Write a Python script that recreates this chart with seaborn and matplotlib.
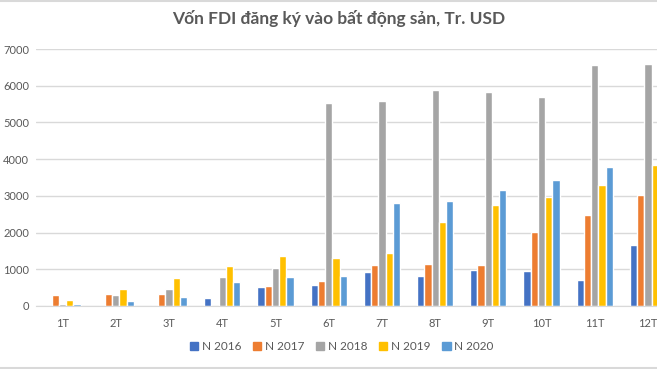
# Vốn FDI đăng ký vào bất động sản - grouped bar chart

import pandas as pd
import matplotlib.pyplot as plt
import seaborn as sns
from matplotlib.lines import Line2D

sns.set_style("white")
plt.rcParams["font.family"] = ["Lato", "DejaVu Sans"]

# data (Tr. USD)
months = ["1T", "2T", "3T", "4T", "5T", "6T", "7T", "8T", "9T", "10T", "11T", "12T"]
years = ["N 2016", "N 2017", "N 2018", "N 2019", "N 2020"]
n2016 = [0, 0, 0, 220, 520, 570, 925, 820, 980, 955, 710, 1660]
n2017 = [300, 330, 330, 0, 545, 680, 1115, 1145, 1115, 2015, 2480, 3025]
n2018 = [55, 300, 465, 790, 1035, 5530, 5585, 5885, 5830, 5695, 6565, 6595]
n2019 = [165, 465, 765, 1090, 1360, 1310, 1445, 2290, 2750, 2970, 3295, 3840]
n2020 = [55, 135, 245, 655, 790, 820, 2805, 2860, 3160, 3435, 3785, 4100]

colors = ["#4472C4", "#ED7D31", "#A5A5A5", "#FFC000", "#5B9BD5"]

rows = []
for year, vals in zip(years, [n2016, n2017, n2018, n2019, n2020]):
    for m, v in zip(months, vals):
        rows.append({"month": m, "year": year, "value": v})
df = pd.DataFrame(rows)

fig = plt.figure(figsize=(6.57, 3.69), dpi=100)
# axes runs past the right edge, like the cropped original
ax = fig.add_axes([0.0548, 0.171, 0.972, 0.696])

sns.barplot(data=df, x="month", y="value", hue="year", order=months,
            hue_order=years, palette=colors, width=0.68, gap=0,
            saturation=1, ax=ax, legend=False)

ax.set_xlim(-0.5, 11.5)
ax.set_ylim(0, 7000)
ax.set_yticks(range(0, 7001, 1000))
ax.yaxis.grid(True, color="#D9D9D9", linewidth=1)
ax.set_axisbelow(True)
for s in ["top", "right", "left"]:
    ax.spines[s].set_visible(False)
ax.spines["bottom"].set_color("#D9D9D9")
ax.tick_params(axis="both", length=0, labelsize=8, labelcolor="#595959")
ax.tick_params(axis="x", pad=9)
ax.tick_params(axis="y", pad=5)
ax.set_xlabel("")
ax.set_ylabel("")

fig.text(0.515, 0.95, "Vốn FDI đăng ký vào bất động sản, Tr. USD",
         ha="center", va="center", fontsize=12.5, fontweight="bold",
         color="#595959")

handles = [plt.Rectangle((0, 0), 1, 1, color=c) for c in colors]
fig.legend(handles, years, loc="center", bbox_to_anchor=(0.52, 0.06),
           ncol=5, frameon=False, fontsize=8.5, labelcolor="#595959",
           handlelength=0.7, handleheight=0.7, handletextpad=0.3,
           columnspacing=1.0)

# chart area border lines seen in the screenshot
fig.add_artist(Line2D([0, 1], [0.997, 0.997], color="#D9D9D9", linewidth=1.5))
fig.add_artist(Line2D([0, 1], [0.004, 0.004], color="#D9D9D9", linewidth=1.5))

fig.savefig("out.png", dpi=100)
